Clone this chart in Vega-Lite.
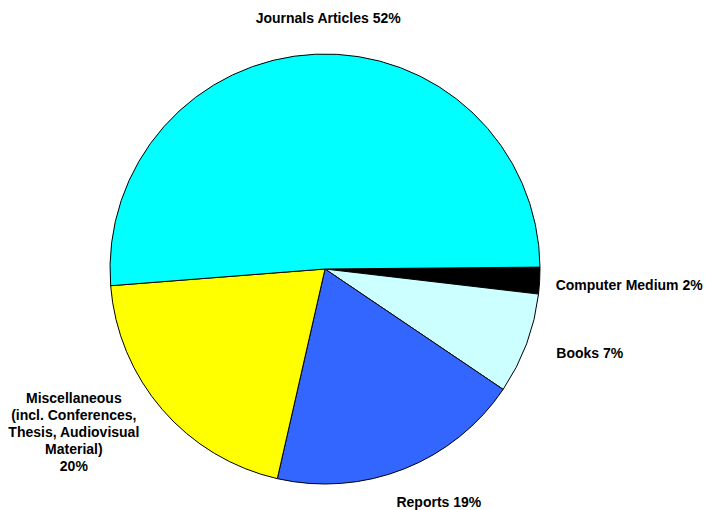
{
  "$schema": "https://vega.github.io/schema/vega-lite/v6.json",
  "width": 430,
  "height": 430,
  "autosize": {"type": "none"},
  "padding": {"left": 110, "top": 54, "right": 167, "bottom": 26},
  "background": "white",
  "config": {"view": {"stroke": null}, "text": {"font": "Liberation Sans", "fontWeight": "bold", "fontSize": 14}},
  "data": {
    "values": [
      {"category": "Computer Medium", "value": 2.0, "label": "Computer Medium 2%", "ord": 1},
      {"category": "Books", "value": 7.6, "label": "Books 7%", "ord": 2},
      {"category": "Reports", "value": 19.1, "label": "Reports 19%", "ord": 3},
      {"category": "Miscellaneous", "value": 20.2, "label": "Miscellaneous\n(incl. Conferences,\nThesis, Audiovisual\nMaterial)\n20%", "ord": 4},
      {"category": "Journals Articles", "value": 51.1, "label": "Journals Articles 52%", "ord": 5}
    ]
  },
  "encoding": {
    "theta": {"field": "value", "type": "quantitative", "stack": true, "scale": {"range": [1.562, 7.8452]}},
    "order": {"field": "ord", "type": "quantitative"}
  },
  "layer": [
    {
      "mark": {"type": "arc", "outerRadius": 215, "stroke": "black", "strokeWidth": 1},
      "encoding": {
        "color": {
          "field": "category", "type": "nominal", "legend": null,
          "scale": {
            "domain": ["Computer Medium", "Books", "Reports", "Miscellaneous", "Journals Articles"],
            "range": ["#000000", "#CCFFFF", "#3366FF", "#FFFF00", "#00FFFF"]
          }
        }
      }
    },
    {
      "mark": {"type": "text", "radius": 250, "align": "center", "baseline": "middle", "dx": 14},
      "encoding": {"text": {"condition": {"test": "datum.category == 'Journals Articles'", "field": "label"}, "value": ""}}
    },
    {
      "mark": {"type": "text", "radius": 235, "align": "left", "baseline": "middle", "dx": -4, "dy": 4},
      "encoding": {"text": {"condition": {"test": "datum.category == 'Computer Medium'", "field": "label"}, "value": ""}}
    },
    {
      "mark": {"type": "text", "radius": 235, "align": "left", "baseline": "middle", "dx": 11, "dy": 3},
      "encoding": {"text": {"condition": {"test": "datum.category == 'Books'", "field": "label"}, "value": ""}}
    },
    {
      "mark": {"type": "text", "radius": 250, "align": "center", "baseline": "middle", "dx": 22, "dy": 1},
      "encoding": {"text": {"condition": {"test": "datum.category == 'Reports'", "field": "label"}, "value": ""}}
    },
    {
      "mark": {"type": "text", "radius": 250, "align": "center", "baseline": "middle", "dx": -62, "dy": -33, "lineBreak": "\n", "lineHeight": 17},
      "encoding": {"text": {"condition": {"test": "datum.category == 'Miscellaneous'", "field": "label"}, "value": ""}}
    }
  ]
}
